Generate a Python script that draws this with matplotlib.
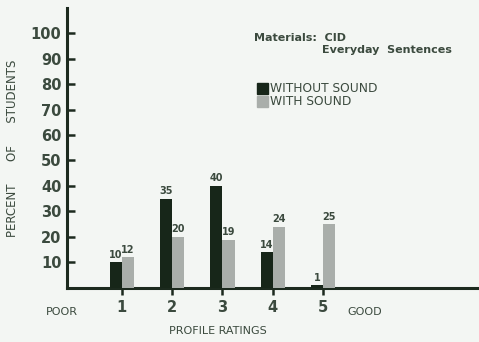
"""
Profile ratings with and without sound (CID Everyday Sentences).
"""

import matplotlib

matplotlib.use("Agg")
import matplotlib.pyplot as plt
import numpy as np

ratings = [1, 2, 3, 4, 5]
without_sound = [10, 35, 40, 14, 1]
with_sound = [12, 20, 19, 24, 25]
y_ticks = [10, 20, 30, 40, 50, 60, 70, 80, 90, 100]

BG = "#f3f6f3"
TEXT = "#3b4a3e"
DARK = "#172619"
LIGHT = "#a9aeaa"


def main():
    fig = plt.figure(figsize=(4.79, 3.42), dpi=100, facecolor=BG)
    ax = fig.add_axes([0.14, 0.158, 0.86, 0.82], facecolor=BG)

    x = np.array(ratings, dtype=float)
    width = 0.24
    ax.bar(x - width / 2, without_sound, width, color=DARK, zorder=3)
    ax.bar(x + width / 2, with_sound, width, color=LIGHT, zorder=3)

    for xi, v in zip(x, without_sound):
        ax.text(xi - width / 2, v + 1, str(v), ha="center", va="bottom",
                fontsize=7, color=TEXT, fontweight="semibold")
    for xi, v in zip(x, with_sound):
        ax.text(xi + width / 2, v + 1, str(v), ha="center", va="bottom",
                fontsize=7, color=TEXT, fontweight="semibold")

    ax.set_xlim(-0.09, 8.1)
    ax.set_ylim(0, 110)

    for side in ("top", "right"):
        ax.spines[side].set_visible(False)
    for side in ("left", "bottom"):
        ax.spines[side].set_linewidth(2.2)
        ax.spines[side].set_color("#1c2a1e")

    ax.set_yticks(y_ticks)
    ax.set_yticklabels([str(t) for t in y_ticks], fontsize=10.5,
                       fontweight="bold", color=TEXT)
    ax.tick_params(axis="y", direction="in", length=6, width=1.8,
                   color="#1c2a1e", pad=4)

    ax.set_xticks(ratings)
    ax.set_xticklabels([str(r) for r in ratings], fontsize=10.5,
                       fontweight="semibold", color=TEXT)
    ax.tick_params(axis="x", direction="out", length=5, width=1.8,
                   color="#1c2a1e", pad=4)

    ax.text(-0.2, -0.085, "POOR", transform=ax.get_xaxis_transform(),
            ha="center", va="center", fontsize=8, color=TEXT, clip_on=False)
    ax.text(5.82, -0.085, "GOOD", transform=ax.get_xaxis_transform(),
            ha="center", va="center", fontsize=8, color=TEXT, clip_on=False)
    ax.text(2.9, -0.155, "PROFILE RATINGS", transform=ax.get_xaxis_transform(),
            ha="center", va="center", fontsize=8, color=TEXT, clip_on=False)

    fig.text(0.027, 0.565, "PERCENT      OF      STUDENTS", rotation=90,
             ha="center", va="center", fontsize=8.5, color=TEXT)

    # annotation and legend block
    fig.text(0.53, 0.89, "Materials:  CID", fontsize=8, color=TEXT,
             va="center", fontweight="semibold")
    fig.text(0.672, 0.855, "Everyday  Sentences", fontsize=8, color=TEXT,
             va="center", fontweight="semibold")
    leg_items = [(DARK, "WITHOUT SOUND", 0.742), (LIGHT, "WITH SOUND", 0.703)]
    for color, label, yy in leg_items:
        fig.patches.append(plt.Rectangle((0.537, yy - 0.016), 0.022, 0.032,
                                         transform=fig.transFigure,
                                         color=color, figure=fig))
        fig.text(0.563, yy, label, fontsize=8.8, color=TEXT, va="center")

    fig.savefig("out.png", dpi=100, facecolor=BG)


if __name__ == "__main__":
    main()
